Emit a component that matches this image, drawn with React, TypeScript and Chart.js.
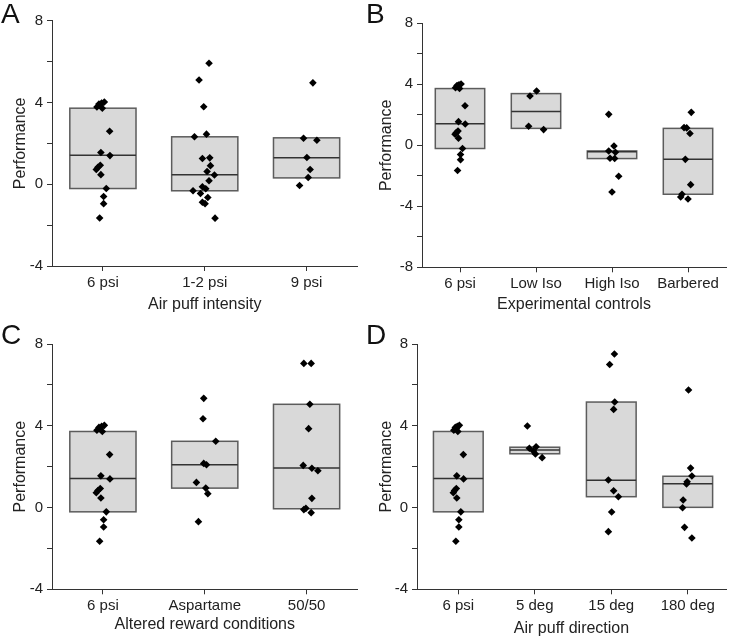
import React, { useEffect, useRef } from 'react';
import { Chart, registerables } from 'chart.js';

Chart.register(...registerables);
Chart.defaults.font.family = '"Liberation Sans", Arial, Helvetica, sans-serif';

// ---------- data ----------
// shared control group (6 psi)
const psi6 = [4.02, 3.97, 3.92, 3.85, 3.78, 3.72, 2.59, 1.55, 1.4, 0.93, 0.83, 0.72, 0.47, -0.21, -0.6, -0.95, -1.65];
const psi6Jit = [0.014, -0.013, -0.039, -0.026, -0.059, -0.006, 0.066, -0.02, 0.069, -0.026, -0.049, -0.065, -0.02, 0.033, 0.007, 0.007, -0.032];

// Panel A: Air puff intensity
const catsA = ['6 psi', '1-2 psi', '9 psi'];
const psi12 = [5.92, 5.1, 3.79, 2.45, 2.32, 1.29, 1.26, 0.91, 0.62, 0.45, 0.17, -0.12, -0.22, -0.32, -0.45, -0.65, -0.88, -0.95, -1.66];
const psi12Jit = [0.042, -0.056, -0.01, 0.017, -0.101, 0.049, -0.023, 0.056, 0.023, 0.095, 0.042, -0.023, 0.01, -0.115, -0.042, 0.03, -0.023, 0.003, 0.101];
const psi9 = [4.96, 2.25, 2.15, 1.31, 0.72, 0.33, -0.06];
const psi9Jit = [0.062, -0.03, 0.101, 0.003, 0.035, 0.016, -0.069];
const q1A = [-0.21, -0.32, 0.31];
const medA = [1.42, 0.46, 1.29];
const q3A = [3.72, 2.32, 2.27];

// Panel B: Experimental controls
const catsB = ['6 psi', 'Low Iso', 'High Iso', 'Barbered'];
const lowIso = [3.56, 3.23, 1.25, 1.03];
const lowIsoJit = [0.008, -0.079, -0.097, 0.1];
const highIso = [2.03, -0.05, -0.37, -0.46, -0.85, -0.87, -2.03, -3.06];
const highIsoJit = [-0.043, 0.026, -0.043, 0.045, -0.026, 0.035, 0.088, 0];
const barbered = [2.16, 1.16, 1.14, 0.77, -0.92, -2.58, -3.21, -3.39, -3.52];
const barberedJit = [0.043, -0.052, -0.017, 0.026, -0.035, 0.035, -0.079, -0.096, 0];
const q1B = [-0.21, 1.11, -0.87, -3.21];
const medB = [1.42, 2.21, -0.42, -0.92];
const q3B = [3.72, 3.39, -0.37, 1.11];

// Panel C: Altered reward conditions
const catsC = ['6 psi', 'Aspartame', '50/50'];
const aspartame = [5.34, 4.34, 3.24, 2.16, 2.09, 1.23, 0.95, 0.68, -0.69];
const aspartameJit = [-0.01, -0.017, 0.108, -0.01, 0.017, -0.082, 0.01, 0.03, -0.062];
const fifty = [7.05, 7.05, 5.05, 3.86, 2.06, 1.92, 1.8, 0.45, -0.04, -0.1, -0.25];
const fiftyJit = [-0.027, 0.045, 0.032, 0.02, -0.033, 0.052, 0.111, 0.052, -0.007, -0.027, 0.045];
const q1C = [-0.21, 0.95, -0.06];
const medC = [1.42, 2.09, 1.93];
const q3C = [3.72, 3.24, 5.05];

// Panel D: Air puff direction
const catsD = ['6 psi', '5 deg', '15 deg', '180 deg'];
const deg5 = [3.99, 2.97, 2.9, 2.76, 2.62, 2.44];
const deg5Jit = [-0.097, 0.017, -0.071, -0.018, 0.008, 0.096];
const deg15 = [7.51, 7.0, 5.16, 4.8, 1.35, 0.82, 0.53, -0.22, -1.18];
const deg15Jit = [0.041, -0.021, 0.045, 0.031, -0.038, 0.031, 0.093, 0.005, -0.038];
const deg180 = [5.75, 1.93, 1.54, 1.26, 1.15, 0.37, -0.01, -0.97, -1.49];
const deg180Jit = [0.01, 0.037, 0.054, -0.008, -0.016, -0.06, -0.068, -0.042, 0.054];
const q1D = [-0.21, 2.63, 0.53, 0.01];
const medD = [1.42, 2.81, 1.33, 1.16];
const q3D = [3.72, 2.95, 5.16, 1.53];

// ---------- rendering ----------
const BOX_HALF = 0.325;

const boxPlugin = {
  id: 'boxes',
  beforeDatasetsDraw(chart: any, _args: any, opts: any) {
    const { ctx } = chart;
    const x = chart.scales.x;
    const y = chart.scales.y;
    const { q1, med, q3 } = opts;
    ctx.save();
    q1.forEach((lo: number, i: number) => {
      const xl = x.getPixelForValue(i - BOX_HALF);
      const xr = x.getPixelForValue(i + BOX_HALF);
      const yt = y.getPixelForValue(q3[i]);
      const yb = y.getPixelForValue(lo);
      const ym = y.getPixelForValue(med[i]);
      ctx.fillStyle = '#d9d9d9';
      ctx.fillRect(xl, yt, xr - xl, yb - yt);
      ctx.strokeStyle = '#5c5c5c';
      ctx.lineWidth = 1.5;
      ctx.strokeRect(xl, yt, xr - xl, yb - yt);
      ctx.strokeStyle = '#333';
      ctx.beginPath();
      ctx.moveTo(xl, ym);
      ctx.lineTo(xr, ym);
      ctx.stroke();
    });
    ctx.restore();
  },
};

type Group = { vals: number[]; jit: number[] };

type PanelProps = {
  letter: string;
  left: number;
  top: number;
  w: number;
  h: number;
  cats: string[];
  groups: Group[];
  q1: number[];
  med: number[];
  q3: number[];
  yMin: number;
  yMax: number;
  xTitle: string;
  yWidth: number;
  padTop: number;
  padRight: number;
  xHeight: number;
  yTitlePad: number;
  xTitlePad: number;
  xMinExtra?: number;
  letterTop: number;
};

function Panel(p: PanelProps) {
  const ref = useRef<HTMLCanvasElement | null>(null);
  useEffect(() => {
    if (!ref.current) return;
    const axisColor = '#333';
    const textColor = '#222';
    const chart = new Chart(ref.current, {
      type: 'scatter',
      data: {
        datasets: p.groups.map((g, gi) => ({
          data: g.vals.map((v, j) => ({ x: gi + g.jit[j], y: v })),
          pointStyle: 'rectRot',
          radius: 3.8,
          backgroundColor: '#000',
          borderColor: '#000',
          borderWidth: 0,
        })),
      },
      options: {
        responsive: false,
        animation: false,
        layout: { padding: { top: p.padTop, right: p.padRight, left: 0, bottom: 0 } },
        plugins: {
          legend: { display: false },
          tooltip: { enabled: false },
          boxes: { q1: p.q1, med: p.med, q3: p.q3 },
        } as any,
        scales: {
          x: {
            type: 'linear',
            min: -0.5 - (p.xMinExtra || 0),
            max: p.cats.length - 0.5,
            afterBuildTicks: (scale: any) => {
              scale.ticks = p.cats.map((_, i) => ({ value: i }));
            },
            afterFit: (scale: any) => {
              scale.height = p.xHeight;
            },
            ticks: {
              autoSkip: false,
              maxRotation: 0,
              padding: 3,
              color: textColor,
              font: { size: 15 },
              callback: (v: any) => p.cats[Math.round(Number(v))] ?? '',
            },
            grid: { drawOnChartArea: false, drawTicks: true, tickLength: 5, color: axisColor },
            border: { display: true, color: axisColor, width: 1 },
            title: {
              display: true,
              text: p.xTitle,
              color: textColor,
              font: { size: 16 },
              padding: { top: 0, bottom: p.xTitlePad },
            },
          },
          y: {
            type: 'linear',
            min: p.yMin,
            max: p.yMax,
            afterFit: (scale: any) => {
              scale.width = p.yWidth;
            },
            ticks: {
              stepSize: 2,
              padding: 4,
              color: textColor,
              font: { size: 15 },
              callback: (v: any) => (Number(v) % 4 === 0 ? String(v) : ''),
            },
            grid: { drawOnChartArea: false, drawTicks: true, tickLength: 5, color: axisColor },
            border: { display: true, color: axisColor, width: 1 },
            title: {
              display: true,
              text: 'Performance',
              color: textColor,
              font: { size: 16 },
              padding: { top: p.yTitlePad, bottom: 0 },
            },
          },
        },
      } as any,
      plugins: [boxPlugin as any],
    });
    return () => chart.destroy();
  }, []);
  return (
    <div style={{ position: 'absolute', left: p.left, top: p.top, width: p.w, height: p.h }}>
      <canvas ref={ref} width={p.w} height={p.h} style={{ display: 'block' }} />
      <div
        style={{
          position: 'absolute',
          left: 1,
          top: p.letterTop,
          fontFamily: '"Liberation Sans", Arial, sans-serif',
          fontSize: 28,
          lineHeight: '28px',
          color: '#111',
        }}
      >
        {p.letter}
      </div>
    </div>
  );
}

export default function App() {
  const g6 = { vals: psi6, jit: psi6Jit };
  return (
    <div style={{ position: 'absolute', left: 0, top: 0, width: 730, height: 639, background: '#fff' }}>
      <Panel
        letter="A" left={0} top={0} w={365} h={320}
        cats={catsA}
        groups={[g6, { vals: psi12, jit: psi12Jit }, { vals: psi9, jit: psi9Jit }]}
        q1={q1A} med={medA} q3={q3A}
        yMin={-4} yMax={8} xTitle="Air puff intensity"
        yWidth={52} padTop={20.7} padRight={7.5} xHeight={54} yTitlePad={10.7} xTitlePad={5.4}
        letterTop={0}
      />
      <Panel
        letter="B" left={365} top={0} w={365} h={320}
        cats={catsB}
        groups={[g6, { vals: lowIso, jit: lowIsoJit }, { vals: highIso, jit: highIsoJit }, { vals: barbered, jit: barberedJit }]}
        q1={q1B} med={medB} q3={q3B}
        yMin={-8} yMax={8} xTitle="Experimental controls"
        yWidth={57} padTop={23.3} padRight={2} xHeight={52.7} yTitlePad={12.1} xTitlePad={5.4}
        letterTop={0}
      />
      <Panel
        letter="C" left={0} top={320} w={365} h={319}
        cats={catsC}
        groups={[g6, { vals: aspartame, jit: aspartameJit }, { vals: fifty, jit: fiftyJit }]}
        q1={q1C} med={medC} q3={q3C}
        yMin={-4} yMax={8} xTitle="Altered reward conditions"
        yWidth={52} padTop={24} padRight={7.5} xHeight={49.7} yTitlePad={11.1} xTitlePad={4.4}
        letterTop={0.5}
      />
      <Panel
        letter="D" left={365} top={320} w={365} h={319}
        cats={catsD}
        groups={[g6, { vals: deg5, jit: deg5Jit }, { vals: deg15, jit: deg15Jit }, { vals: deg180, jit: deg180Jit }]}
        q1={q1D} med={medD} q3={q3D}
        yMin={-4} yMax={8} xTitle="Air puff direction"
        yWidth={52} padTop={24} padRight={3.3} xHeight={49.7} yTitlePad={12.1} xTitlePad={1.1}
        xMinExtra={0.04}
        letterTop={1}
      />
    </div>
  );
}
